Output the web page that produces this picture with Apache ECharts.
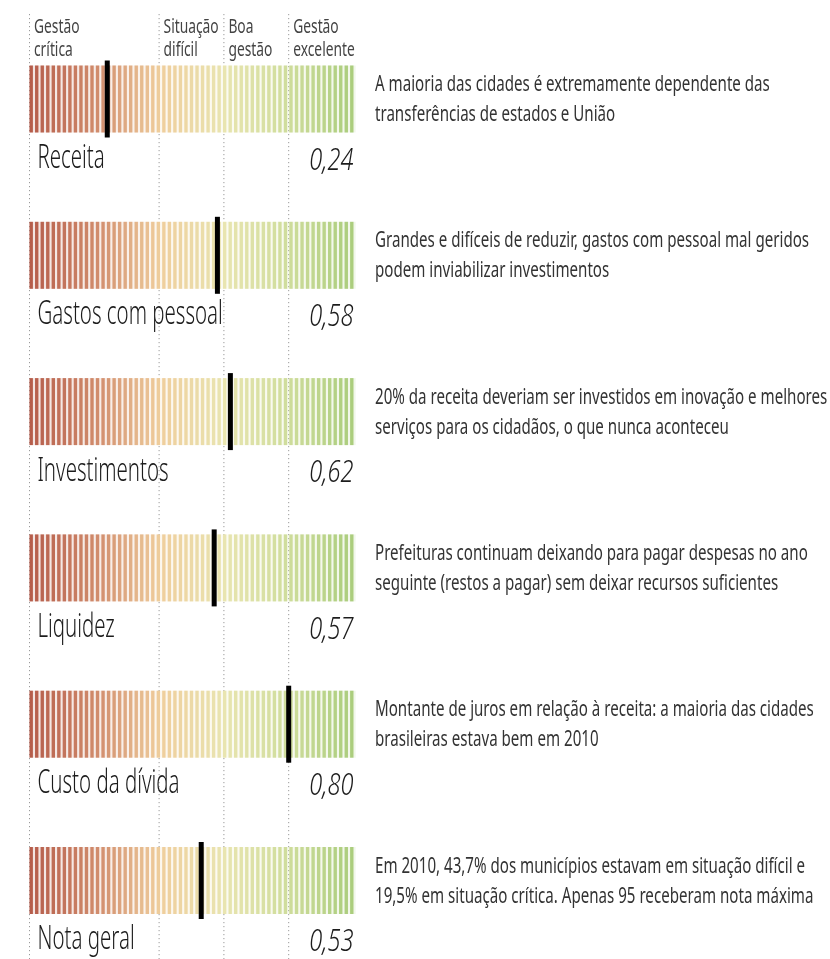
<!DOCTYPE html>
<html>
<head>
<meta charset="utf-8">
<title>Índice de gestão fiscal</title>
<script src="https://cdn.jsdelivr.net/npm/echarts@6/dist/echarts.min.js"></script>
<style>
    html, body { margin: 0; padding: 0; background: #fff; }
    #chart { width: 830px; height: 959px; }
</style>
</head>
<body>
<div id="chart"></div>
<script>
const FONT = '"Noto Sans", "Open Sans", sans-serif';

const categories = ['Receita', 'Gastos com pessoal', 'Investimentos', 'Liquidez', 'Custo da dívida', 'Nota geral'];
const scores = [0.24, 0.58, 0.62, 0.57, 0.80, 0.53];
const notes = [
    'A maioria das cidades é extremamente dependente das\ntransferências de estados e União',
    'Grandes e difíceis de reduzir, gastos com pessoal mal geridos\npodem inviabilizar investimentos',
    '20% da receita deveriam ser investidos em inovação e melhores\nserviços para os cidadãos, o que nunca aconteceu',
    'Prefeituras continuam deixando para pagar despesas no ano\nseguinte (restos a pagar) sem deixar recursos suficientes',
    'Montante de juros em relação à receita: a maioria das cidades\nbrasileiras estava bem em 2010',
    'Em 2010, 43,7% dos municípios estavam em situação difícil e\n19,5% em situação crítica. Apenas 95 receberam nota máxima'
];
const bandEdges = [0, 0.4, 0.6, 0.8];
const bandLabels = ['Gestão\ncrítica', 'Situação\ndifícil', 'Boa\ngestão', 'Gestão\nexcelente'];

const scaleColors = ['#b65d4b', '#d08a6b', '#efcd9c', '#e9e5b0', '#cfdd9c', '#abcd7d'];

const BAR_LEFT = 29.5;
const BAR_WIDTH = 324;
const BAR_TOP = 65.5;
const BAR_HEIGHT = 67;
const ROW_STEP = 156.3;
const STRIPES = 59;
const STRIPE_W = 3.4;

function formatScore(v) {
    return v.toFixed(2).replace('.', ',');
}

// texto condensado: a fonte original é estreita, então comprimimos na horizontal
function narrowText(text, x, y, size, squeeze, extra) {
    return {
        type: 'text',
        x: x,
        y: y,
        scaleX: squeeze,
        style: Object.assign({
            text: text, x: 0, y: 0,
            verticalAlign: 'middle', fontFamily: FONT, fontSize: size, fill: '#2e2e2e'
        }, extra || {})
    };
}

function renderRow(i, api) {
    const bl = api.coord([0, 0]);
    const tr = api.coord([1, 1]);
    const left = bl[0], bottom = bl[1], right = tr[0], top = tr[1];
    const h = bottom - top;
    const pitch = (right - left - STRIPE_W) / (STRIPES - 1);
    const children = [];

    for (let k = 0; k < STRIPES; k++) {
        const c = echarts.color.lerp(k / (STRIPES - 1), scaleColors);
        const x = left + k * pitch;
        children.push({
            type: 'rect',
            shape: { x: x, y: top, width: pitch, height: h },
            style: { fill: c, opacity: 0.16 }
        });
        children.push({
            type: 'rect',
            shape: { x: x, y: top, width: STRIPE_W, height: h },
            style: { fill: c }
        });
    }

    // marcador da nota
    const mx = api.coord([api.value(0), 0])[0];
    children.push({
        type: 'rect',
        shape: { x: mx - 2.5, y: top - 5, width: 5, height: h + 10 },
        style: { fill: '#000' }
    });

    children.push(narrowText(categories[i], left + 8, bottom + 26, 33, 0.62,
        { fontWeight: 300, fill: '#1c1c1c' }));
    children.push(narrowText(formatScore(api.value(0)), right, bottom + 28.5, 31, 0.76,
        { align: 'right', fontStyle: 'italic', fontWeight: 300, fill: '#1c1c1c' }));
    children.push(narrowText(notes[i], right + 21.5, top + h / 2 + 0.7, 22.4, 0.675,
        { lineHeight: 30, fill: '#333' }));

    return { type: 'group', children: children };
}

function renderBand(params, api) {
    const x = api.coord([api.value(0), 0])[0];
    const top = api.coord([0, 1])[1];
    const bottom = api.coord([0, 0])[1];
    return {
        type: 'group',
        children: [{
            type: 'line',
            shape: { x1: x, y1: top, x2: x, y2: bottom },
            style: { stroke: '#9a9a9a', lineWidth: 1, lineDash: [1.2, 2.8] }
        }, narrowText(bandLabels[params.dataIndex], x + 4.5, 38.5, 20, 0.69,
            { lineHeight: 23, fill: '#444' })]
    };
}

const grids = categories.map((_, i) => ({
    left: BAR_LEFT, width: BAR_WIDTH,
    top: BAR_TOP + ROW_STEP * i, height: BAR_HEIGHT
}));
grids.push({ left: BAR_LEFT, width: BAR_WIDTH, top: 14, bottom: 0 });

const axisBase = { type: 'value', min: 0, max: 1, show: false };

const chart = echarts.init(document.getElementById('chart'));
chart.setOption({
    animation: false,
    backgroundColor: '#fff',
    grid: grids,
    xAxis: grids.map((_, i) => ({ ...axisBase, gridIndex: i })),
    yAxis: grids.map((_, i) => ({ ...axisBase, gridIndex: i })),
    series: [{
        type: 'custom',
        xAxisIndex: categories.length,
        yAxisIndex: categories.length,
        z: 1,
        data: bandEdges.map(e => [e, 0]),
        renderItem: renderBand
    }].concat(categories.map((name, i) => ({
        type: 'custom',
        name: name,
        xAxisIndex: i,
        yAxisIndex: i,
        z: 2,
        data: [[scores[i], 0]],
        renderItem: (params, api) => renderRow(i, api)
    })))
});
</script>
</body>
</html>
